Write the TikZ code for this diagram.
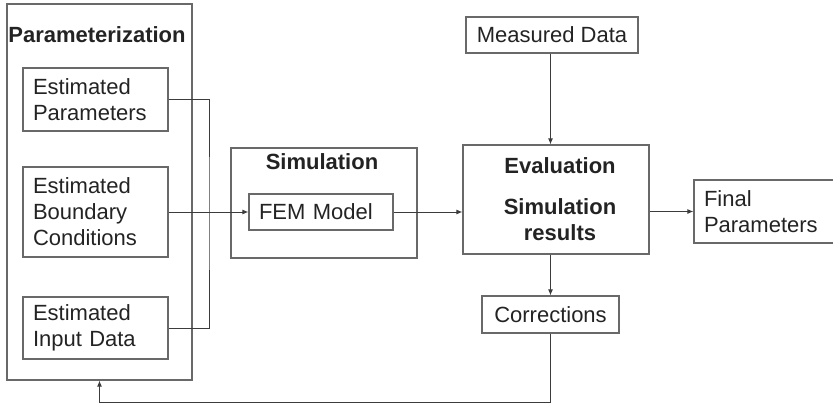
\documentclass[tikz,border=0pt]{standalone}
\usepackage{fontspec}
\setmainfont{Liberation Sans}
\usepackage{xcolor}
\definecolor{boxgray}{RGB}{105,105,105}
\definecolor{linegray}{RGB}{60,60,60}
\definecolor{txtgray}{RGB}{35,35,35}
\usetikzlibrary{arrows.meta,positioning,calc}

\begin{document}
\begin{tikzpicture}[x=1pt, y=-1pt,
  frame/.style={rectangle, draw=boxgray, line width=1.1pt, inner sep=0pt},
  lbox/.style={rectangle, draw=boxgray, line width=1.1pt, inner xsep=10pt,
               inner ysep=0pt, align=left, text=txtgray,
               font=\fontsize{22}{26}\selectfont},
  cbox/.style={rectangle, draw=boxgray, line width=1.1pt, inner sep=0pt,
               align=center, text=txtgray, font=\fontsize{22}{26}\selectfont},
  title/.style={text=txtgray, inner sep=0pt,
                font=\fontsize{22}{26}\selectfont\bfseries},
  arr/.style={-{Latex[length=6pt,width=5pt]}, draw=linegray, line width=1pt},
  wire/.style={draw=linegray, line width=1pt}
]
\useasboundingbox (0,0) rectangle (833,404);
\clip (0,0) rectangle (833,404);

% Parameterization block
\node[frame, minimum width=185pt, minimum height=376pt] (param) at (99.5,192) {};
\node[title] (paramtitle) at (97,35) {Parameterization};

\node[lbox, text width=125pt, minimum height=63pt] (estpar) at (95.5,99.5)
  {Estimated\\Parameters};
\node[lbox, text width=125pt, minimum height=90pt] (estbc)  at (95.5,212)
  {Estimated\\Boundary\\Conditions};
\node[lbox, text width=125pt, minimum height=62pt] (estin)  at (95.5,328)
  {Estimated\\Input Data};

% Simulation block
\node[frame, minimum width=186pt, minimum height=110pt] (sim) at (324,203) {};
\node[title] (simtitle) at (322,162) {Simulation};
\node[lbox, text width=124pt, minimum height=36pt] (fem) at (321,212) {FEM Model};

% Evaluation and data
\node[cbox, minimum width=172pt, minimum height=36pt] (meas) at (552,35) {Measured Data};
\node[cbox, minimum width=186pt, minimum height=109pt, font=\fontsize{22}{26}\selectfont\bfseries]
  (eval) at (556,199.5) {\hspace*{8pt}Evaluation\\[15pt]\hspace*{8pt}Simulation\\\hspace*{8pt}results};
\node[cbox, minimum width=137pt, minimum height=37pt] (corr) at (550.5,314.5) {Corrections};
\node[lbox, text width=150pt, minimum height=63pt] (final) at (779,211.5)
  {Final\\Parameters};

% Wires
\coordinate (bus) at (209,213);
\coordinate (loop) at (99.5,402);
\draw[wire] (estpar.east) -| (bus) |- (estin.east);
\draw[arr] (estbc.east) -- (fem.west);
\draw[arr] (fem.east) -- (fem.east -| eval.west);
\draw[arr] (meas.south -| corr.north) -- (corr.north |- eval.north);
\draw[arr] (eval.east |- final.west) -- (final.west);
\draw[arr] (corr.north |- eval.south) -- (corr.north);
\draw[arr] (corr.south) |- (loop) -- (param.south);
\end{tikzpicture}
\end{document}
